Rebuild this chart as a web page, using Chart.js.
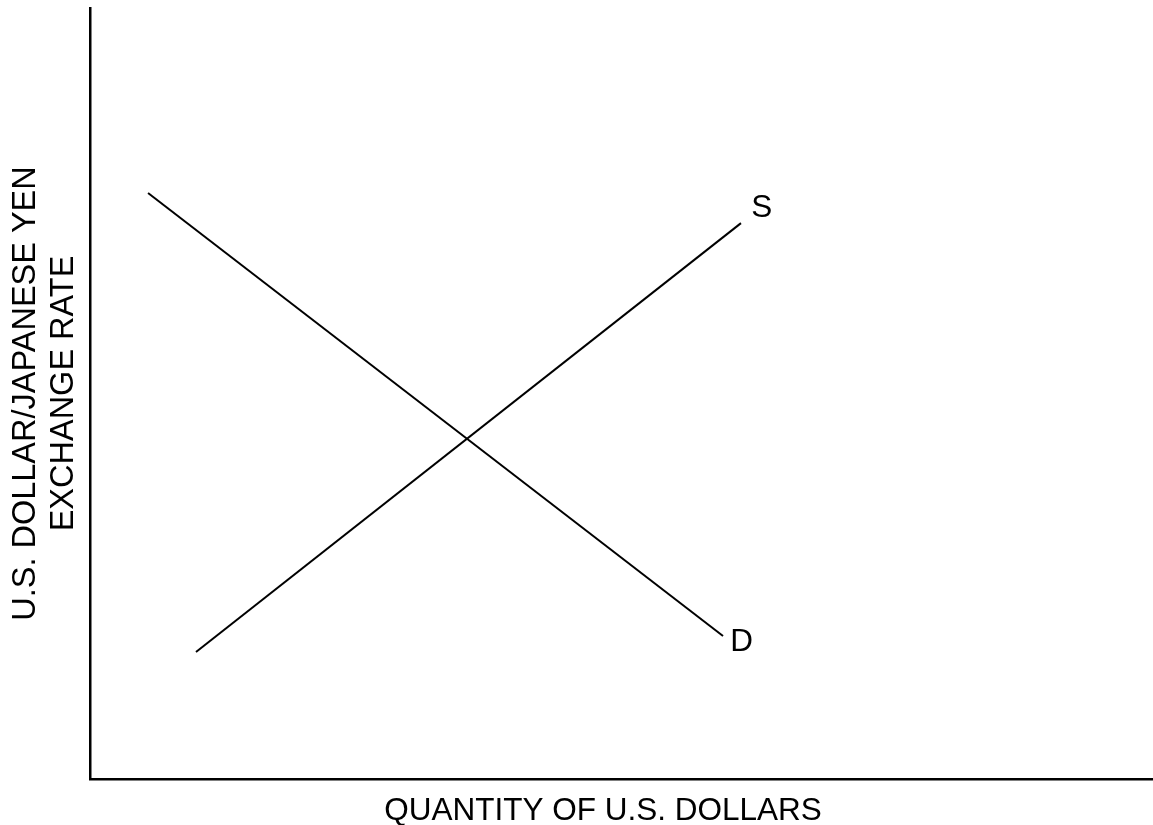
<!DOCTYPE html>
<html>
<head>
<meta charset="utf-8">
<script src="https://cdn.jsdelivr.net/npm/chart.js@4/dist/chart.umd.min.js"></script>
<style>
  html, body { margin: 0; padding: 0; background: #ffffff; }
  #wrap { width: 1153px; height: 825px; }
</style>
</head>
<body>
<div id="wrap"><canvas id="c" width="1153" height="825"></canvas></div>
<script>
// ---- data (economic units on a 0..10 grid) ----
const demandQ = [0.546, 5.955];
const demandP = [7.60, 1.855];
const supplyQ = [0.997, 6.124];
const supplyP = [1.647, 7.21];
const curveNames = ['D', 'S'];
const labelQ = [6.13, 6.32];
const labelP = [1.79, 7.42];
const xTitle = 'QUANTITY OF U.S. DOLLARS';
const yTitle = ['U.S. DOLLAR/JAPANESE YEN', 'EXCHANGE RATE'];

const FONT = '"Liberation Sans", Arial, Helvetica, sans-serif';

function pts(qs, ps) { return qs.map((q, i) => ({ x: q, y: ps[i] })); }

const curveLabelPlugin = {
  id: 'curveLabels',
  afterDatasetsDraw(chart) {
    const ctx = chart.ctx;
    const xs = chart.scales.x, ys = chart.scales.y;
    ctx.save();
    ctx.fillStyle = '#000';
    ctx.font = '31.5px ' + FONT;
    ctx.textAlign = 'center';
    ctx.textBaseline = 'middle';
    curveNames.forEach((n, i) => {
      ctx.fillText(n, xs.getPixelForValue(labelQ[i]), ys.getPixelForValue(labelP[i]) + 1);
    });
    // x-axis title
    ctx.textBaseline = 'alphabetic';
    ctx.fillText(xTitle, 603, 820);
    ctx.restore();
  }
};

new Chart(document.getElementById('c'), {
  type: 'scatter',
  data: {
    datasets: [
      { label: 'D', data: pts(demandQ, demandP), showLine: true, borderColor: '#000', borderWidth: 2, pointRadius: 0, fill: false },
      { label: 'S', data: pts(supplyQ, supplyP), showLine: true, borderColor: '#000', borderWidth: 2, pointRadius: 0, fill: false }
    ]
  },
  options: {
    responsive: false,
    animation: false,
    events: [],
    layout: { padding: { top: 8, right: 0, left: 0, bottom: 0 } },
    plugins: { legend: { display: false }, tooltip: { enabled: false }, title: { display: false } },
    scales: {
      x: {
        type: 'linear', min: 0, max: 10,
        grid: { display: false, drawTicks: false },
        ticks: { display: false },
        border: { display: true, color: '#000', width: 2.5 },
        title: { display: false },
        afterFit(s) { s.height = 46; }
      },
      y: {
        type: 'linear', min: 0, max: 10,
        grid: { display: false, drawTicks: false },
        ticks: { display: false },
        border: { display: true, color: '#000', width: 2.5 },
        title: {
          display: true, text: yTitle, color: '#000',
          font: { family: FONT, size: 32.5, lineHeight: 1.17 },
          padding: { top: 7, bottom: 0 }
        },
        afterFit(s) { s.width = 90; }
      }
    }
  },
  plugins: [curveLabelPlugin]
});
</script>
</body>
</html>
